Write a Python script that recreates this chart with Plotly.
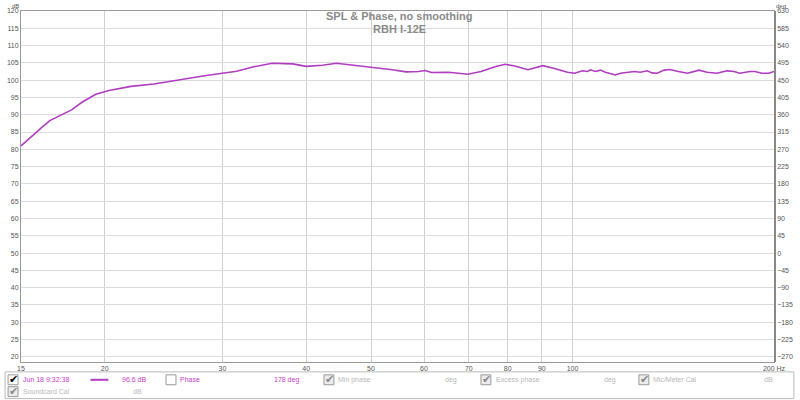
import plotly.graph_objects as go

# ---- data ----
freq_hz = [15, 15.57, 16.1, 16.56, 17.2, 17.85, 18.5, 19.4, 20.3, 21.9, 23.7, 26.2, 28.2,
           31.5, 33.3, 35.6, 38.2, 40.0, 42.3, 44.4, 46.9, 49.2, 51.5, 53.8,
           56.4, 58.9, 60.2, 61.6, 65.3, 69.8, 73.0, 76.6, 79.3, 82.0, 85.8,
           90.3, 94.0, 98.3, 100.7, 103.5, 105.3, 106.4, 108.2, 110.1, 112.0,
           114.0, 115.9, 117.9, 120.8, 123.7, 126.3, 129.3, 131.5, 133.8, 137.1,
           139.9, 143.3, 148.5, 154.6, 158.9, 164.4, 170.1, 174.3, 177.9, 184.1,
           187.3, 191.8, 196.5, 200]
spl_db = [81.0, 83.9, 86.3, 88.3, 89.8, 91.4, 93.6, 95.9, 97.0, 98.2, 98.9, 100.3, 101.3,
          102.6, 103.8, 104.9, 104.7, 104.0, 104.3, 104.9, 104.4, 103.8, 103.4, 103.0,
          102.4, 102.5, 102.8, 102.2, 102.3, 101.7, 102.5, 103.9, 104.6, 104.1, 103.0,
          104.2, 103.4, 102.3, 102.0, 102.7, 102.5, 103.0, 102.5, 102.9, 102.3,
          102.0, 101.5, 102.0, 102.3, 102.5, 102.3, 102.7, 102.1, 102.0, 102.9,
          103.1, 102.6, 102.0, 102.9, 102.3, 102.0, 102.7, 102.5, 102.0, 102.5,
          102.5, 102.0, 102.0, 102.5]

x_ticks = [15, 20, 30, 40, 50, 60, 70, 80, 90, 100, 200]
x_tick_labels = ["15", "20", "30", "40", "50", "60", "70", "80", "90", "100", "200 Hz"]
db_ticks = list(range(20, 121, 5))
deg_ticks = list(range(-270, 631, 45))

title_line1 = "SPL & Phase, no smoothing"
title_line2 = "RBH I-12E"

# ---- figure ----
W, H = 800, 400
ML, MR, MT, MB = 19, 23, 7, 38
DB_MIN, DB_MAX = 18.5, 120
DEG_MIN = -270 + (DB_MIN - 20) * 9
DEG_MAX = 630

curve_col = "#b03cc0"
legend_col = "#c83cc8"
grid_col = "#dcdcdc"
tick_col = "#555555"

fig = go.Figure()
fig.add_trace(go.Scatter(x=freq_hz, y=spl_db, mode="lines",
                         line=dict(color=curve_col, width=1.6), showlegend=False,
                         hoverinfo="skip"))
# empty phase trace (phase display is switched off) so the right axis is drawn
fig.add_trace(go.Scatter(x=[], y=[], yaxis="y2", mode="lines", showlegend=False,
                         hoverinfo="skip"))

fig.update_layout(
    width=W, height=H,
    margin=dict(l=ML, r=MR, t=MT, b=MB, pad=0),
    paper_bgcolor="white", plot_bgcolor="white",
    showlegend=False,
    font=dict(family="Arial, Liberation Sans, sans-serif", size=7, color=tick_col),
    xaxis=dict(type="log", range=[1.17609, 2.30103],
               tickvals=x_ticks, ticktext=x_tick_labels,
               showgrid=True, gridcolor="#d0d0d0", gridwidth=1,
               showline=True, linecolor="#999999", linewidth=1, mirror=True,
               ticks="", tickfont=dict(size=7, color=tick_col), zeroline=False),
    yaxis=dict(range=[DB_MIN, DB_MAX], tickvals=db_ticks,
               showgrid=True, gridcolor=grid_col, gridwidth=1,
               showline=True, linecolor="#999999", linewidth=1, mirror=True,
               ticks="", tickfont=dict(size=7, color=tick_col), zeroline=False),
    yaxis2=dict(range=[DEG_MIN, DEG_MAX], tickvals=deg_ticks, overlaying="y",
                side="right", showgrid=False, showline=True, linecolor="#888888",
                linewidth=1.5, ticks="", tickfont=dict(size=7, color=tick_col),
                zeroline=False, autorange=False),
)

pw = W - ML - MR
ph = H - MT - MB


def px(xp):
    return (xp - ML) / pw


def py(yp):
    return 1 - (yp - MT) / ph


ann = []
ann.append(dict(text="<b>" + title_line1 + "</b>", x=px(400), y=py(12.5), xref="paper", yref="paper",
                showarrow=False, font=dict(size=11, color="#8a8a8a"), xanchor="center", yanchor="middle"))
ann.append(dict(text="<b>" + title_line2 + "</b>", x=px(400), y=py(25), xref="paper", yref="paper",
                showarrow=False, font=dict(size=11, color="#8a8a8a"), xanchor="center", yanchor="middle"))
ann.append(dict(text="dB", x=px(13), y=py(2), xref="paper", yref="paper", showarrow=False,
                font=dict(size=6, color=tick_col), xanchor="center", yanchor="middle"))
ann.append(dict(text="deg", x=px(784), y=py(2), xref="paper", yref="paper", showarrow=False,
                font=dict(size=6, color=tick_col), xanchor="center", yanchor="middle"))

shapes = []
# legend panel
shapes.append(dict(type="rect", xref="paper", yref="paper", x0=px(3), x1=px(797), y0=py(372), y1=py(399),
                   line=dict(color="#bbbbbb", width=1), fillcolor="white", layer="below"))


def checkbox(cx, cy, checked_dark, checked=True):
    shapes.append(dict(type="rect", xref="paper", yref="paper",
                       x0=px(cx - 5), x1=px(cx + 5), y0=py(cy + 5), y1=py(cy - 5),
                       line=dict(color="#999999", width=1),
                       fillcolor="white" if checked_dark or not checked else "#ececec"))
    if checked:
        ann.append(dict(text="✔", x=px(cx + 0.5), y=py(cy), xref="paper", yref="paper", showarrow=False,
                        font=dict(size=11, color="#000000" if checked_dark else "#8a8a8a",
                                  family="DejaVu Sans"),
                        xanchor="center", yanchor="middle"))


def label(text, x, y, color, anchor="left", size=7):
    ann.append(dict(text=text, x=px(x), y=py(y), xref="paper", yref="paper", showarrow=False,
                    font=dict(size=size, color=color), xanchor=anchor, yanchor="middle"))


r1, r2 = 380, 392
checkbox(11, r1, True)
label("Jun 18 9:32:38", 19, r1, legend_col)
shapes.append(dict(type="line", xref="paper", yref="paper", x0=px(89), x1=px(107), y0=py(r1), y1=py(r1),
                   line=dict(color=curve_col, width=2)))
label("96.6 dB", 147, r1, legend_col, anchor="right")
checkbox(170, r1, True, checked=False)
label("Phase", 177, r1, legend_col)
label("178 deg", 301, r1, legend_col, anchor="right")
checkbox(329, r1, False)
label("Min phase", 336, r1, "#b8b8b8")
label("deg", 460, r1, "#b8b8b8", anchor="right")
checkbox(487, r1, False)
label("Excess phase", 495, r1, "#b8b8b8")
label("deg", 620, r1, "#b8b8b8", anchor="right")
checkbox(646, r1, False)
label("Mic/Meter Cal", 653, r1, "#b8b8b8")
label("dB", 778, r1, "#b8b8b8", anchor="right")
checkbox(11, r2, False)
label("Soundcard Cal", 19, r2, "#b8b8b8")
label("dB", 143, r2, "#b8b8b8", anchor="right")

fig.update_layout(annotations=ann, shapes=shapes)
fig.write_html("out.html", config={"displayModeBar": False},
               post_script="document.body.style.margin='0';document.body.style.overflow='hidden';")
